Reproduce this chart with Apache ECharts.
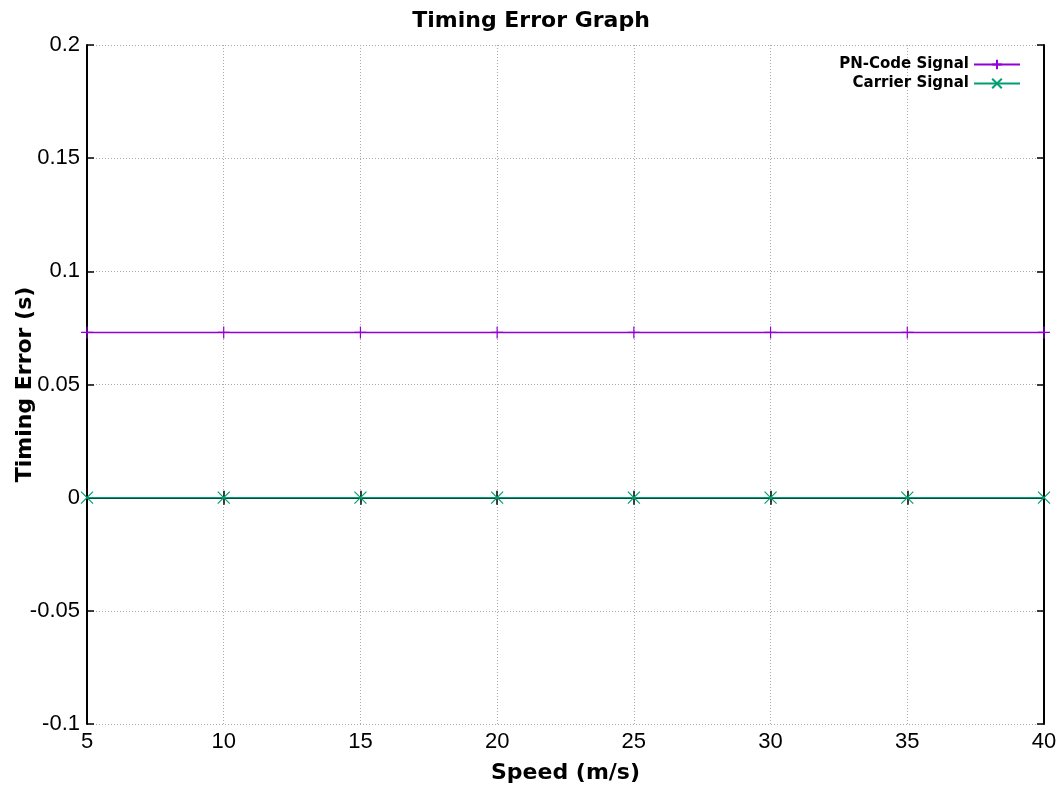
<!DOCTYPE html>
<html>
<head>
<meta charset="utf-8">
<script src="https://cdn.jsdelivr.net/npm/echarts@6/dist/echarts.min.js"></script>
<style>
  html, body { margin: 0; padding: 0; background: #fff; }
  #chart { width: 1062px; height: 790px; }
</style>
</head>
<body>
<div id="chart"></div>
<script>
// data
var speeds = [5, 10, 15, 20, 25, 30, 35, 40];
var pnCode = [0.073, 0.073, 0.073, 0.073, 0.073, 0.073, 0.073, 0.073];
var carrier = [0, 0, 0, 0, 0, 0, 0, 0];

var plusIcon = 'path://M0,-1V1M-1,0H1';
var crossIcon = 'path://M-1,-1L1,1M-1,1L1,-1';

var myChart = echarts.init(document.getElementById('chart'));

var labelFont = { fontFamily: 'Liberation Sans', fontSize: 22, color: '#000' };
var tick = { show: true, inside: true, length: 7, lineStyle: { color: '#000', width: 1.5 } };
var frame = { show: true, lineStyle: { color: '#000', width: 2 } };
var dotted = { show: true, lineStyle: { color: '#aaa', type: [1, 2], width: 1 } };
var nameFont = { fontFamily: 'DejaVu Sans', fontWeight: 'bold', fontSize: 22, color: '#000' };

var option = {
    backgroundColor: '#fff',
    animation: false,
    title: {
        text: 'Timing Error Graph',
        left: 'center',
        top: 5,
        textStyle: { fontFamily: 'DejaVu Sans', fontWeight: 'bold', fontSize: 22, color: '#000' }
    },
    legend: {
        right: 36,
        top: 52,
        orient: 'vertical',
        align: 'right',
        itemWidth: 46,
        itemHeight: 12,
        itemGap: 4,
        textStyle: { fontFamily: 'DejaVu Sans', fontWeight: 'bold', fontSize: 15, color: '#000' },
        data: ['PN-Code Signal', 'Carrier Signal']
    },
    grid: { left: 87, right: 18, top: 45, bottom: 66, outerBoundsMode: 'none', containLabel: false },
    xAxis: [
        {
            type: 'value',
            min: 5, max: 40, interval: 5,
            name: 'Speed (m/s)',
            nameLocation: 'middle',
            nameGap: 38,
            nameMoveOverlap: false,
            nameTextStyle: nameFont,
            axisLine: frame,
            axisTick: tick,
            axisLabel: Object.assign({ margin: 7 }, labelFont),
            splitLine: dotted
        },
        {
            type: 'value',
            position: 'top',
            min: 5, max: 40, interval: 5,
            axisLine: frame,
            axisTick: tick,
            axisLabel: { show: false },
            splitLine: { show: false }
        }
    ],
    yAxis: [
        {
            type: 'value',
            min: -0.1, max: 0.2, interval: 0.05,
            name: 'Timing Error (s)',
            nameLocation: 'middle',
            nameGap: 51,
            nameMoveOverlap: false,
            nameTextStyle: nameFont,
            axisLine: frame,
            axisTick: tick,
            axisLabel: Object.assign({ margin: 7 }, labelFont),
            splitLine: dotted
        },
        {
            type: 'value',
            position: 'right',
            min: -0.1, max: 0.2, interval: 0.05,
            axisLine: frame,
            axisTick: tick,
            axisLabel: { show: false },
            splitLine: { show: false }
        }
    ],
    series: [
        {
            name: 'PN-Code Signal',
            type: 'line',
            data: speeds.map(function (s, i) { return [s, pnCode[i]]; }),
            symbol: plusIcon,
            symbolSize: 12,
            showAllSymbol: true,
            lineStyle: { color: '#9400d3', width: 1.5 },
            itemStyle: { color: 'transparent', borderColor: '#9400d3', borderWidth: 1.2 }
        },
        {
            name: 'Carrier Signal',
            type: 'line',
            data: speeds.map(function (s, i) { return [s, carrier[i]]; }),
            symbol: crossIcon,
            symbolSize: 12,
            showAllSymbol: true,
            lineStyle: { color: '#009e73', width: 1.5 },
            itemStyle: { color: 'transparent', borderColor: '#009e73', borderWidth: 1.2 }
        }
    ]
};

myChart.setOption(option);
</script>
</body>
</html>
